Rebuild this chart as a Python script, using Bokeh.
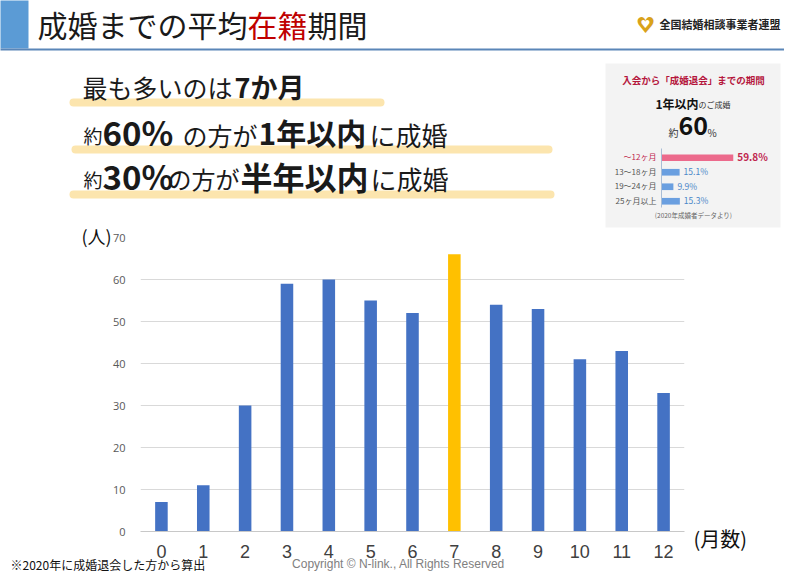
from bokeh.plotting import figure
from bokeh.models import Range1d, FixedTicker
from bokeh.embed import file_html
from bokeh.resources import INLINE
from bokeh.core.properties import value

# ---------------- data ----------------
months = [0, 1, 2, 3, 4, 5, 6, 7, 8, 9, 10, 11, 12]
counts = [7, 11, 30, 59, 60, 55, 52, 66, 54, 53, 41, 43, 33]
highlight_month = 7
y_ticks = [0, 10, 20, 30, 40, 50, 60, 70]

inset_cats = ["〜12ヶ月", "13〜18ヶ月", "19〜24ヶ月", "25ヶ月以上"]
inset_pct = [59.8, 15.1, 9.9, 15.3]
inset_texts = ["59.8%", "15.1%", "9.9%", "15.3%"]

JP = "Noto Sans CJK JP"
LAT = "Liberation Sans"

W, H = 784, 572
# frame of the main chart, in canvas pixels
FL, FR, FT, FB = 140, 684, 237, 531
YMAX = 70
UNIT = (FR - FL) / len(months)
YK = (FB - FT) / YMAX


def X(px):
    return -0.5 + (px - FL) / UNIT


def Y(py):
    return (FB - py) / YK


p = figure(width=W, height=H, x_range=Range1d(-0.5, len(months) - 0.5),
           y_range=Range1d(0, YMAX), output_backend="svg", toolbar_location=None,
           min_border_left=FL, min_border_right=W - FR,
           min_border_top=FT, min_border_bottom=H - FB)
p.outline_line_color = None
p.background_fill_color = "white"
p.border_fill_color = "white"

# ---------------- main chart ----------------
bar_colors = ["#FFC000" if m == highlight_month else "#4472C4" for m in months]
p.vbar(x=months, top=counts, width=0.3, fill_color=bar_colors, line_color=None)

p.xaxis.ticker = FixedTicker(ticks=months)
p.yaxis.ticker = FixedTicker(ticks=y_ticks)
p.ygrid.ticker = FixedTicker(ticks=y_ticks)
p.ygrid.grid_line_color = "#D9D9D9"
p.xgrid.grid_line_color = None
p.yaxis.axis_line_color = None
p.yaxis.major_tick_line_color = None
p.yaxis.minor_tick_line_color = None
p.yaxis.major_label_text_font = "Open Sans"
p.yaxis.major_label_text_font_size = "11px"
p.yaxis.major_label_text_color = "#595959"
p.yaxis.major_label_standoff = 9
p.xaxis.axis_line_color = "#C8C8C8"
p.xaxis.major_tick_line_color = None
p.xaxis.minor_tick_line_color = None
p.xaxis.major_label_text_font = LAT
p.xaxis.major_label_text_font_size = "18px"
p.xaxis.major_label_text_color = "#404040"
p.xaxis.major_label_standoff = 7


def over(r):
    r.level = "annotation"
    return r


def txt(x, y, text, size, color="#1a1a1a", bold=False, font=JP, align="left", shift=True):
    if font == JP and shift:
        y = y - 0.12 * size   # Noto CJK sits a little low on a "middle" baseline
    over(p.text(x=[X(x)], y=[Y(y)], text=[text], text_font=value(font),
                text_font_size=f"{size}px", text_color=color, text_baseline="middle",
                text_align=align, text_font_style="bold" if bold else "normal"))


txt(81, 238, "(人)", 18, color="#111111")
txt(693, 540, "(月数)", 20, color="#111111")
txt(10, 565, "※2020年に成婚退会した方から算出", 12, color="#111111")
txt(398, 563, "Copyright © N-link., All Rights Reserved", 12, color="#808080", font=LAT, align="center")

# ---------------- header ----------------
over(p.quad(left=[X(0)], right=[X(28)], top=[Y(0)], bottom=[Y(48)], fill_color="#5B9BD5", line_color=None))
over(p.segment(x0=[X(0)], y0=[Y(49)], x1=[X(W)], y1=[Y(49)], line_color="#5A86B8", line_width=2))
txt(37, 23, "成婚までの平均", 30, shift=False)
txt(247, 23, "在籍", 30, color="#C00000", shift=False)
txt(307, 23, "期間", 30, shift=False)
txt(645, 25, "♥", 22, color="#D9A21B", font="DejaVu Sans", align="center")
txt(645, 24, "♥", 11, color="white", font="DejaVu Sans", align="center")
txt(659, 25, "全国結婚相談事業者連盟", 11, color="#222222", bold=True)

# ---------------- highlights ----------------
over(p.segment(x0=[X(73), X(75), X(73)], y0=[Y(102), Y(149), Y(194)],
               x1=[X(380), X(548), X(550)], y1=[Y(102), Y(149), Y(194)],
               line_width=8, line_cap="round", line_color="#FCE5AE"))
txt(82, 89, "最も多いのは", 25)
txt(234, 89, "7か月", 27, bold=True)
txt(83, 137, "約", 19)
txt(102, 135, "60%", 33, bold=True)
txt(182, 137, "の方が", 25)
txt(258, 135, "1年以内", 30, bold=True)
txt(369, 137, "に成婚", 26)
txt(83, 181, "約", 19)
txt(102, 179, "30%", 33, bold=True)
txt(167, 181, "の方が", 24)
txt(240, 179, "半年以内", 32, bold=True)
txt(370, 181, "に成婚", 26)

# ---------------- inset (own scales: percent and category index) ----------------
PX0, PXK = 661.0, 1.2       # canvas x of 0 %, pixels per %
PY0, PYK = 157.25, 14.5     # canvas y of first category, pixels per category
p.extra_x_ranges = {"pct": Range1d((FL - PX0) / PXK, (FR - PX0) / PXK)}
p.extra_y_ranges = {"idx": Range1d((FB - PY0) / PYK, (FT - PY0) / PYK)}

over(p.quad(left=[X(605)], right=[X(780)], top=[Y(63)], bottom=[Y(227)],
            fill_color="#F3F3F3", line_color=None))
n = len(inset_cats)
idx = list(range(n))
half = 0.23
bar_cols = ["#EC6A8C"] + ["#6A9FE0"] * (n - 1)
cat_cols = ["#C0264E"] + ["#555555"] * (n - 1)
val_cols = ["#C0264E"] + ["#4A86C8"] * (n - 1)
val_sizes = ["10px"] + ["8.5px"] * (n - 1)
val_styles = ["bold"] + ["normal"] * (n - 1)
over(p.quad(left=[0] * n, right=inset_pct, bottom=[i + half for i in idx], top=[i - half for i in idx],
            fill_color=bar_cols, line_color=None, x_range_name="pct", y_range_name="idx"))
over(p.segment(x0=[X(661)], y0=[Y(148)], x1=[X(661)], y1=[Y(207)], line_color="#A9BDD6", line_width=1))
over(p.text(x=[0] * n, y=idx, text=inset_cats, x_offset=-5, y_offset=-1, text_align="right",
            text_baseline="middle", text_font=value(JP), text_font_size="8px",
            text_color=cat_cols, x_range_name="pct", y_range_name="idx"))
over(p.text(x=inset_pct, y=idx, text=inset_texts, x_offset=4, y_offset=-1, text_align="left",
            text_baseline="middle", text_font=value(JP), text_font_size=val_sizes,
            text_font_style=val_styles, text_color=val_cols, x_range_name="pct", y_range_name="idx"))
txt(693, 81, "入会から「成婚退会」までの期間", 9.5, color="#B5163C", bold=True, align="center")
txt(655, 104, "1年以内", 12, color="#111111", bold=True)
txt(698, 105, "のご成婚", 8, color="#333333")
txt(668, 133, "約", 10, color="#333333")
txt(678, 128, "60", 25, color="#111111", bold=True)
txt(707, 133, "%", 10, color="#333333")
txt(693, 215, "(2020年成婚者データより)", 6.5, color="#666666", align="center")

open("out.html", "w").write(file_html(p, INLINE))
